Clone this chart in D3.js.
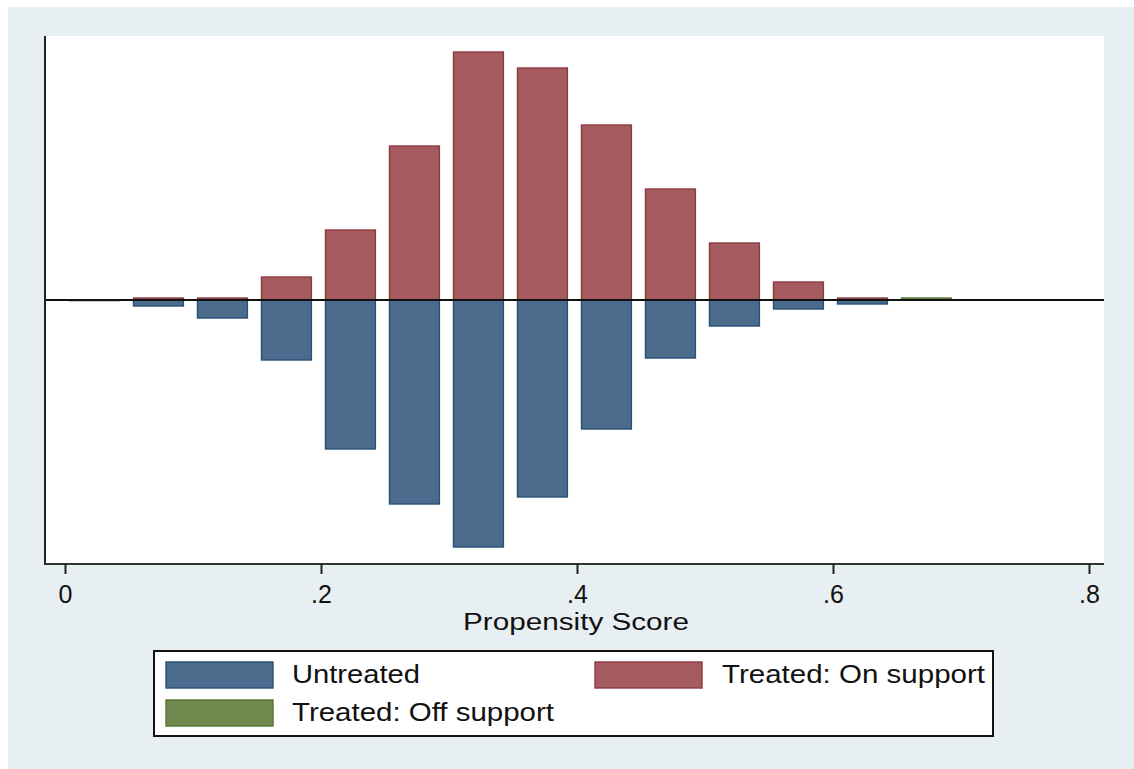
<!DOCTYPE html>
<html lang="en">
<head>
<meta charset="utf-8">
<title>propensity score graph</title>
<script src="https://cdn.jsdelivr.net/npm/d3@7"></script>
<style>
  body { margin: 0; background: #fff; }
  text { font-family: "Liberation Sans", Arial, sans-serif; fill: #111; }
</style>
</head>
<body>
<svg id="chart" width="1134" height="769"></svg>
<script>
// bin midpoints of the propensity score histogram
var binMid = [0.023, 0.073, 0.123, 0.173, 0.223, 0.273, 0.323, 0.373, 0.423, 0.473, 0.523, 0.573, 0.623, 0.673];
// frequencies (arbitrary units)
var untreated = [0.6, 6, 18, 60, 149, 204, 247, 197, 129, 58, 26, 9, 4, 0];
var treatedOn = [0, 2, 2, 23, 70, 154, 248, 232, 175, 111, 57, 18, 2, 0];
var treatedOff = [0, 0, 0, 0, 0, 0, 0, 0, 0, 0, 0, 0, 0, 2];
var xTicks = [0, 0.2, 0.4, 0.6, 0.8];
var xTickLabels = ["0", ".2", ".4", ".6", ".8"];
var legendLabels = ["Untreated", "Treated: On support", "Treated: Off support"];

var fills = ["#4a6b8c", "#a55b5f", "#72894f"];
var strokes = ["#2a5078", "#8e3a41", "#557531"];
var binWidth = 0.039;

var svg = d3.select("#chart");

// outer region
svg.append("rect").attr("x", 8).attr("y", 7).attr("width", 1126).attr("height", 762).attr("fill", "#e8eff2");

var plot = {left: 45, right: 1104, top: 36, bottom: 564};
svg.append("rect").attr("x", plot.left).attr("y", plot.top)
   .attr("width", plot.right - plot.left).attr("height", plot.bottom - plot.top).attr("fill", "#fff");

var x = d3.scaleLinear().domain([0, 0.8]).range([65, 1089]);
var y = d3.scaleLinear().domain([-264, 264]).range([plot.bottom, plot.top]);

function drawBars(vals, sign, k) {
  svg.append("g")
    .selectAll("rect")
    .data(binMid.map(function(m, i) { return {m: m, v: vals[i]}; }).filter(function(d) { return d.v > 0; }))
    .enter().append("rect")
      .attr("x", function(d) { return x(d.m - binWidth / 2); })
      .attr("width", function(d) { return x(d.m + binWidth / 2) - x(d.m - binWidth / 2); })
      .attr("y", function(d) { return sign > 0 ? y(d.v) : y(0); })
      .attr("height", function(d) { return Math.abs(y(d.v) - y(0)); })
      .attr("fill", fills[k])
      .attr("stroke", strokes[k])
      .attr("stroke-width", 1.4);
}
drawBars(treatedOn, 1, 1);
drawBars(treatedOff, 1, 2);
drawBars(untreated, -1, 0);

// zero line
svg.append("line").attr("x1", plot.left).attr("x2", plot.right)
   .attr("y1", y(0)).attr("y2", y(0)).attr("stroke", "#111").attr("stroke-width", 2);

// left axis (no ticks)
svg.append("line").attr("x1", plot.left).attr("x2", plot.left)
   .attr("y1", plot.top).attr("y2", plot.bottom + 1).attr("stroke", "#222").attr("stroke-width", 2);

// bottom axis
var xAxis = d3.axisBottom(x).tickValues(xTicks)
  .tickFormat(function(d, i) { return xTickLabels[i]; })
  .tickSizeInner(10).tickSizeOuter(0).tickPadding(12);
var gx = svg.append("g").attr("transform", "translate(0," + plot.bottom + ")").call(xAxis);
gx.select(".domain").attr("d", "M" + plot.left + ",0H" + plot.right).attr("stroke", "#333").attr("stroke-width", 2);
gx.selectAll(".tick line").attr("stroke", "#222").attr("stroke-width", 2);
gx.selectAll(".tick text").attr("font-size", 25).attr("font-family", "Liberation Sans, Arial, sans-serif")
  .attr("fill", "#111").attr("dy", 0).attr("y", 39);

svg.append("text").attr("x", 576).attr("y", 630).attr("text-anchor", "middle")
   .attr("font-size", 23).attr("textLength", 226).attr("lengthAdjust", "spacingAndGlyphs")
   .text("Propensity Score");

// legend
var lg = svg.append("g");
lg.append("rect").attr("x", 154).attr("y", 651).attr("width", 839).attr("height", 85)
  .attr("fill", "#fff").attr("stroke", "#111").attr("stroke-width", 2);
var items = [
  {k: 0, kx: 166, ky: 662, tx: 292, ty: 683, w: 128},
  {k: 1, kx: 595, ky: 662, tx: 722, ty: 683, w: 263},
  {k: 2, kx: 166, ky: 700, tx: 292, ty: 721, w: 262}
];
items.forEach(function(d) {
  lg.append("rect").attr("x", d.kx).attr("y", d.ky).attr("width", 107).attr("height", 26)
    .attr("fill", fills[d.k]).attr("stroke", strokes[d.k]).attr("stroke-width", 1.4);
  lg.append("text").attr("x", d.tx).attr("y", d.ty).attr("font-size", 26)
    .attr("textLength", d.w).attr("lengthAdjust", "spacingAndGlyphs")
    .text(legendLabels[d.k]);
});
</script>
</body>
</html>
